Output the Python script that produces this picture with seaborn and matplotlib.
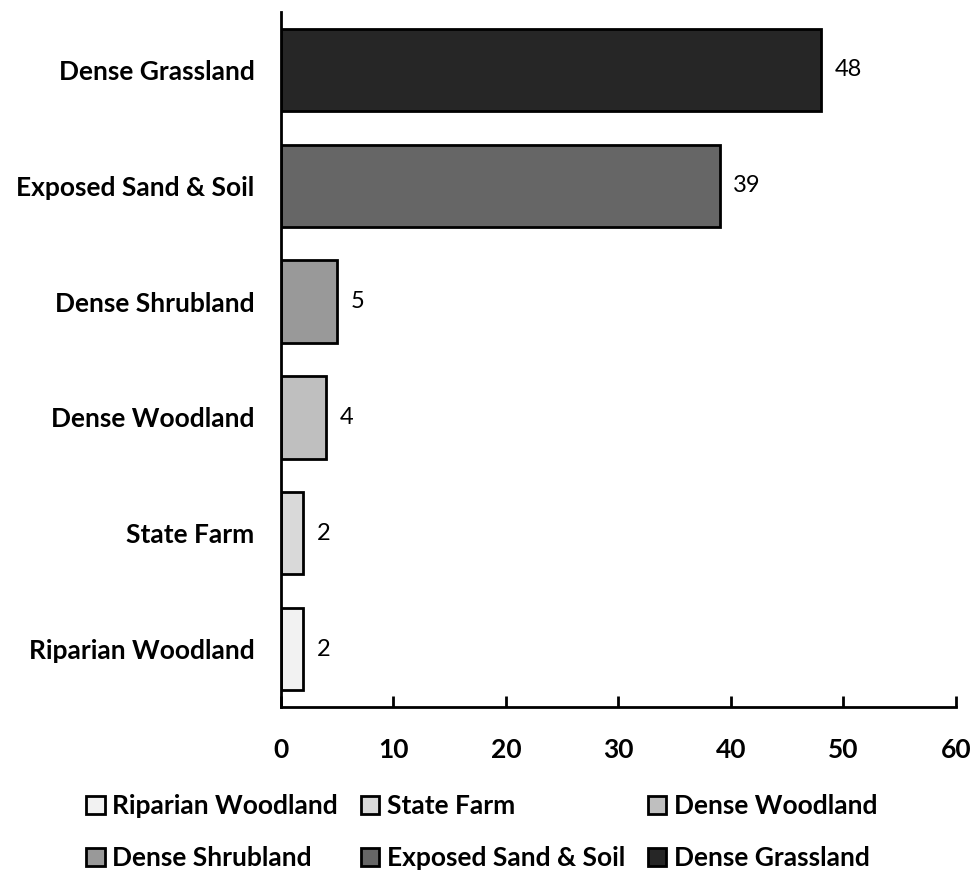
import matplotlib
matplotlib.use("Agg")
import matplotlib.pyplot as plt
from matplotlib.patches import Patch
import seaborn as sns
import pandas as pd

# Land cover classes (top to bottom) and their shares
categories = ["Dense Grassland", "Exposed Sand & Soil", "Dense Shrubland",
              "Dense Woodland", "State Farm", "Riparian Woodland"]
values = [48, 39, 5, 4, 2, 2]
fills = ["#262626", "#666666", "#999999", "#bfbfbf", "#d9d9d9", "#f2f2f2"]
x_ticks = [0, 10, 20, 30, 40, 50, 60]
legend_order = ["Riparian Woodland", "State Farm", "Dense Woodland",
                "Dense Shrubland", "Exposed Sand & Soil", "Dense Grassland"]

df = pd.DataFrame({"category": categories, "value": values})
palette = dict(zip(categories, fills))

sns.set_theme(style="white")
plt.rcParams["font.family"] = ["Lato", "DejaVu Sans"]
plt.rcParams["text.color"] = "black"
plt.rcParams["xtick.color"] = "black"
plt.rcParams["ytick.color"] = "black"
plt.rcParams["axes.labelcolor"] = "black"

fig = plt.figure(figsize=(9.74, 8.73), dpi=100)
ax = fig.add_axes([0.2885, 0.190, 0.693, 0.7963])

sns.barplot(data=df, y="category", x="value", hue="category",
            order=categories, hue_order=categories, palette=palette,
            orient="h", width=0.71, dodge=False, legend=False,
            edgecolor="black", linewidth=2, saturation=1, ax=ax)

for cat, val in zip(categories, values):
    ax.text(val + 1.2, categories.index(cat), f"{val}", va="center",
            ha="left", fontsize=17, color="black")

ax.set_xlim(0, 60)
ax.set_ylim(5.5, -0.5)
ax.set_xticks(x_ticks)
ax.set_xticklabels([str(t) for t in x_ticks], fontsize=19, fontweight="bold")
ax.set_yticks(range(len(categories)))
ax.set_yticklabels(categories, fontsize=19, fontweight="bold")
ax.set_xlabel("")
ax.set_ylabel("")

for side in ["top", "right"]:
    ax.spines[side].set_visible(False)
for side in ["left", "bottom"]:
    ax.spines[side].set_color("black")
    ax.spines[side].set_linewidth(2)

ax.tick_params(axis="x", direction="in", length=8, width=2, color="black",
               pad=22, bottom=True)
ax.tick_params(axis="y", length=0, pad=19)

# Legend filled row by row across three columns
handles = {c: Patch(facecolor=palette[c], edgecolor="black", linewidth=2)
           for c in categories}
ncol = 3
rows = [legend_order[i:i + ncol] for i in range(0, len(legend_order), ncol)]
col_major = [rows[r][c] for c in range(ncol) for r in range(len(rows))]
leg = fig.legend([handles[c] for c in col_major], col_major,
                 loc="lower left", bbox_to_anchor=(0.064, -0.024), ncol=ncol,
                 frameon=False, prop={"size": 19, "weight": "bold"},
                 handlelength=0.7, handleheight=0.7, handletextpad=0.3,
                 columnspacing=0.85, labelspacing=1.05)

fig.savefig("out.png", dpi=100)
